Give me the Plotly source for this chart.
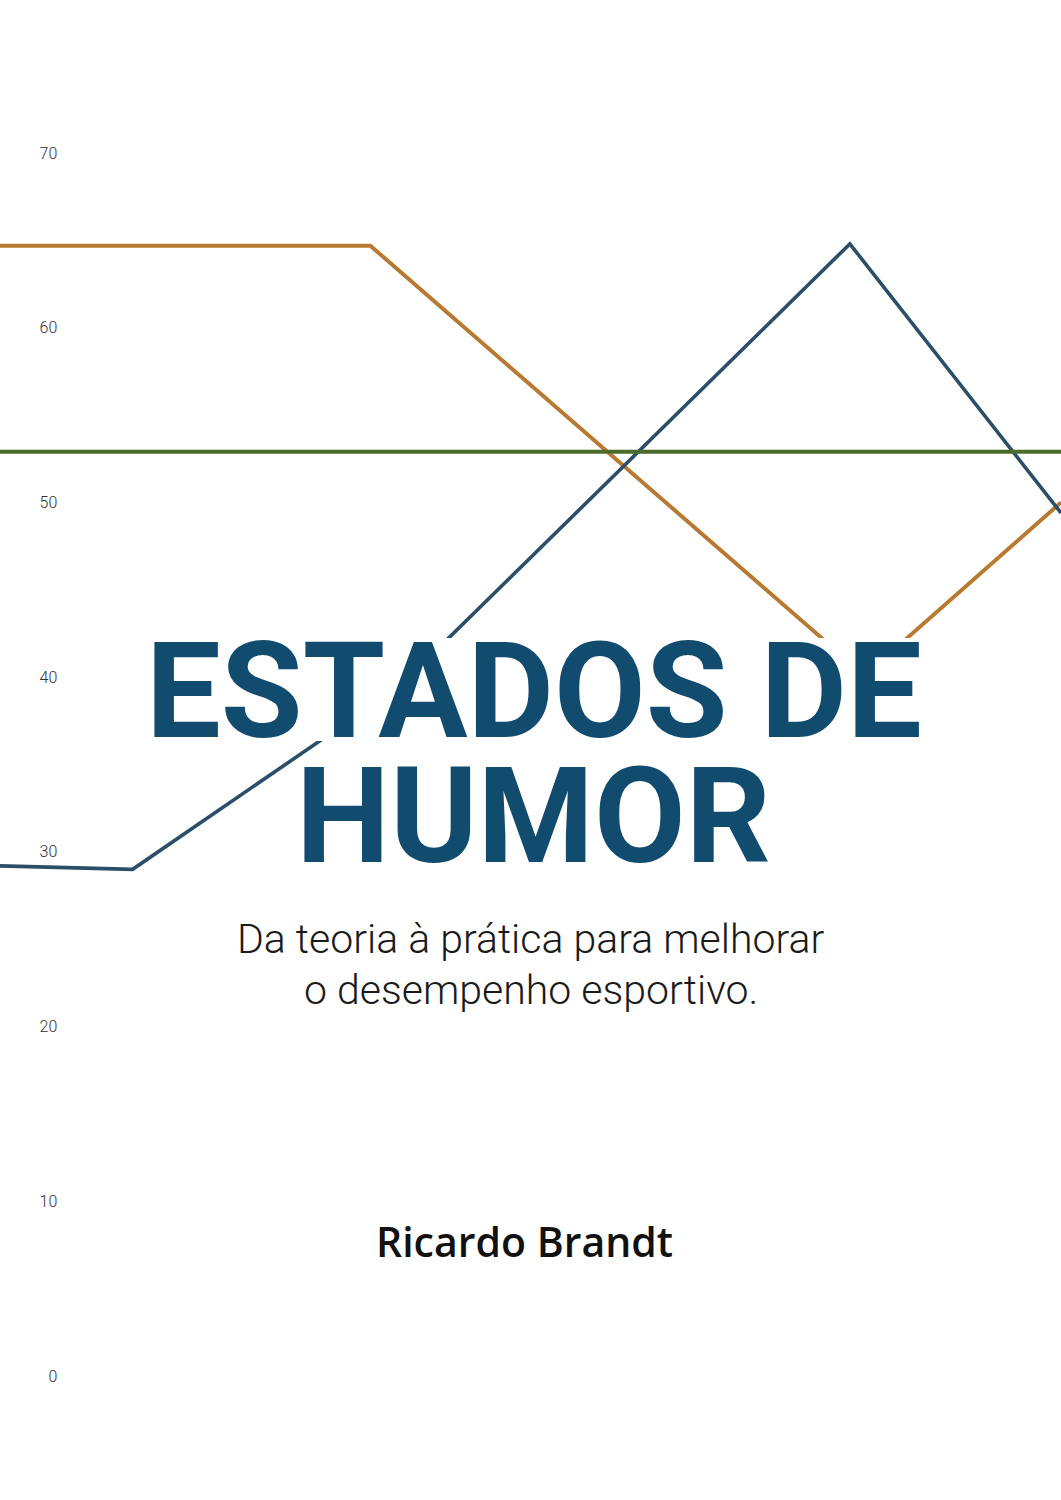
import plotly.graph_objects as go

x_laranja = [0, 34.9, 81.5, 100]
y_laranja = [64.7, 64.7, 40.1, 50.0]

x_azul = [0, 12.5, 37.7, 80.1, 100]
y_azul = [29.2, 29.0, 39.5, 64.8, 49.4]

x_verde = [0, 100]
y_verde = [52.9, 52.9]

ticks_y = [0, 10, 20, 30, 40, 50, 60, 70]

titulo = ["ESTADOS DE", "HUMOR"]
subtitulo = ["Da teoria à prática para melhorar", "o desempenho esportivo."]
autor = "Ricardo Brandt"

cor_laranja = "#B87A32"
cor_azul = "#2B4E69"
cor_verde = "#4C6A2A"
cor_titulo = "#114B6E"

fig = go.Figure()
fig.add_trace(go.Scatter(x=x_laranja, y=y_laranja, mode="lines",
                         line=dict(color=cor_laranja, width=4), hoverinfo="skip"))
fig.add_trace(go.Scatter(x=x_azul, y=y_azul, mode="lines",
                         line=dict(color=cor_azul, width=3.6), hoverinfo="skip"))
fig.add_trace(go.Scatter(x=x_verde, y=y_verde, mode="lines",
                         line=dict(color=cor_verde, width=4), hoverinfo="skip"))

# faixas brancas atras do titulo (escondem as linhas)
fig.add_shape(type="rect", xref="paper", yref="paper", layer="above",
              x0=0.1414, x1=0.865, y0=0.506, y1=0.5747,
              fillcolor="white", line_width=0)
fig.add_shape(type="rect", xref="paper", yref="paper", layer="above",
              x0=0.287, x1=0.721, y0=0.421, y1=0.492,
              fillcolor="white", line_width=0)

fonte_titulo = dict(family="Roboto", size=133, color=cor_titulo, weight="bold")
fig.add_annotation(text=titulo[0], xref="paper", yref="paper", x=0.503, y=0.5387,
                   xanchor="center", yanchor="middle", showarrow=False, font=fonte_titulo)
fig.add_annotation(text=titulo[1], xref="paper", yref="paper", x=0.503, y=0.4555,
                   xanchor="center", yanchor="middle", showarrow=False, font=fonte_titulo)

fonte_sub = dict(family="Roboto", size=41, color="#1a1a1a", weight=300)
fig.add_annotation(text=subtitulo[0], xref="paper", yref="paper", x=0.5, y=0.374,
                   xanchor="center", yanchor="middle", showarrow=False, font=fonte_sub)
fig.add_annotation(text=subtitulo[1], xref="paper", yref="paper", x=0.5, y=0.340,
                   xanchor="center", yanchor="middle", showarrow=False, font=fonte_sub)

fig.add_annotation(text=autor, xref="paper", yref="paper", x=0.494, y=0.173,
                   xanchor="center", yanchor="middle", showarrow=False,
                   font=dict(family="Open Sans", size=41, color="#111111", weight=600))

fig.update_xaxes(range=[0, 100], visible=False, domain=[0, 1])
fig.update_yaxes(range=[-7.1, 78.76], tickvals=ticks_y, showgrid=False, zeroline=False,
                 showline=False, ticks="", anchor="free", position=0.054,
                 tickfont=dict(family="Roboto", size=16, color="#333333", weight=300))

fig.update_layout(width=1061, height=1500, showlegend=False,
                  margin=dict(l=0, r=0, t=0, b=0),
                  paper_bgcolor="white", plot_bgcolor="white")

# tira a margem padrao do body para a figura encostar nas bordas
fig.write_html("out.html", config={"displayModeBar": False},
               post_script="document.body.style.margin='0';")
